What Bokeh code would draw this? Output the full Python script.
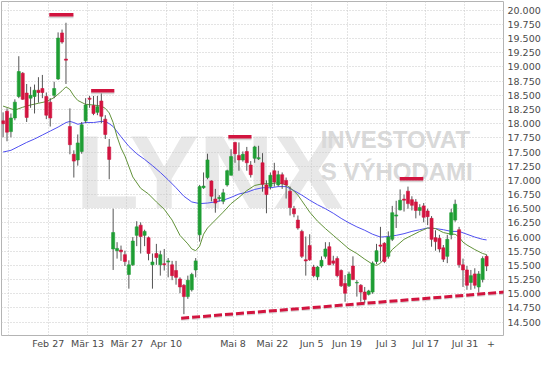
from bokeh.plotting import figure
from bokeh.models import FixedTicker, Label, ColumnDataSource, Range1d, NumeralTickFormatter
from bokeh.embed import file_html
from bokeh.resources import INLINE

# ---- candle data (trading-day index 0 = Feb 9) ----
opens = [
    18.05, 18.22, 17.86, 18.10, 18.48, 18.89, 18.54, 18.45, 18.48, 18.59,
    18.62, 18.48, 18.38, 18.50, 18.79, 19.60, 19.14, 17.95, 17.46, 17.36,
    17.51, 18.05, 18.45, 18.32, 18.20, 18.40, 18.08, 17.59, 15.79, 15.76,
    15.77, 15.69, 15.34, 15.51, 16.03, 16.21, 16.03, 15.99, 15.51, 15.71,
    15.51, 15.53, 15.56, 15.51, 15.41, 15.26, 15.15, 14.95, 15.07, 15.42,
    16.04, 16.87, 17.05, 16.99, 16.67, 16.68, 16.63, 16.92, 17.09, 17.67,
    17.44, 17.36, 17.51, 17.27, 17.39, 17.38, 17.31, 16.92, 16.89, 17.17,
    16.92, 17.10, 17.00, 16.81, 16.50, 16.30, 16.10, 15.60, 15.85, 15.47,
    15.30, 15.49, 15.66, 15.83, 15.58, 15.62, 15.41, 15.18, 15.14, 15.49,
    15.19, 15.15, 15.03, 14.99, 15.03, 15.57, 15.86, 15.89, 15.66, 15.96,
    16.37, 16.48, 16.67, 16.81, 16.66, 16.62, 16.47, 16.55, 16.46, 16.33,
    15.99, 15.98, 15.81, 15.66, 16.04, 16.30, 16.13, 15.51, 15.42, 15.20,
    15.35, 15.12, 15.25, 15.66]
highs = [
    18.20, 18.27, 18.18, 18.43, 19.19, 18.91, 18.70, 18.65, 18.69, 18.82,
    18.86, 18.55, 18.45, 18.74, 19.61, 19.66, 19.78, 18.27, 17.53, 17.81,
    18.03, 18.45, 18.49, 18.49, 18.49, 18.54, 18.15, 17.73, 16.50, 15.91,
    15.85, 15.76, 15.59, 16.00, 16.28, 16.26, 16.13, 16.01, 15.71, 15.88,
    15.76, 15.79, 15.63, 15.58, 15.58, 15.29, 15.17, 15.32, 15.37, 15.63,
    16.92, 17.14, 17.47, 17.00, 16.85, 16.74, 16.85, 17.19, 17.55, 17.68,
    17.67, 17.51, 17.59, 17.34, 17.61, 17.61, 17.48, 17.00, 17.14, 17.31,
    17.17, 17.14, 17.05, 16.89, 16.55, 16.38, 16.13, 16.01, 16.05, 15.51,
    15.49, 15.66, 15.91, 15.91, 15.67, 15.66, 15.43, 15.33, 15.39, 15.66,
    15.24, 15.17, 15.12, 15.07, 15.57, 15.88, 16.18, 15.91, 16.10, 16.55,
    16.64, 16.84, 16.75, 16.89, 16.72, 16.67, 16.58, 16.60, 16.50, 16.37,
    16.12, 16.04, 15.86, 16.04, 16.50, 16.66, 16.18, 15.62, 15.49, 15.42,
    15.45, 15.40, 15.66, 15.69]
lows = [
    17.76, 17.69, 17.76, 18.06, 18.45, 18.42, 18.03, 18.28, 18.18, 18.37,
    18.45, 18.08, 17.95, 18.45, 18.77, 19.41, 18.70, 17.46, 17.05, 17.26,
    17.47, 18.01, 18.28, 18.15, 18.15, 18.01, 17.73, 17.02, 15.42, 15.62,
    15.58, 15.49, 15.09, 15.49, 15.84, 15.71, 15.84, 15.59, 15.09, 15.51,
    15.32, 15.41, 15.29, 15.24, 15.16, 15.01, 14.64, 14.91, 15.04, 15.29,
    15.92, 16.85, 17.02, 16.63, 16.43, 16.63, 16.58, 16.89, 17.09, 17.31,
    17.17, 17.33, 17.17, 17.05, 17.31, 17.36, 16.80, 16.42, 16.84, 16.89,
    16.89, 16.85, 16.68, 16.38, 16.35, 16.13, 15.63, 15.32, 15.58, 15.29,
    15.24, 15.46, 15.62, 15.51, 15.50, 15.29, 15.12, 14.86, 15.12, 15.24,
    14.95, 14.86, 14.83, 14.97, 15.00, 15.52, 15.57, 15.54, 15.62, 15.93,
    16.16, 16.47, 16.45, 16.50, 16.47, 16.33, 16.38, 16.26, 16.21, 15.83,
    15.76, 15.73, 15.56, 15.54, 15.96, 16.27, 15.46, 15.12, 15.07, 15.07,
    15.09, 15.02, 15.20, 15.40]
closes = [
    18.00, 17.85, 18.10, 18.38, 18.92, 18.43, 18.11, 18.50, 18.59, 18.55,
    18.55, 18.15, 18.10, 18.62, 19.51, 19.44, 19.12, 17.63, 17.34, 17.66,
    17.98, 18.33, 18.43, 18.18, 18.30, 18.13, 17.81, 17.37, 16.08, 15.80,
    15.74, 15.57, 15.51, 15.93, 16.18, 16.01, 16.10, 15.71, 15.56, 15.64,
    15.69, 15.51, 15.58, 15.32, 15.29, 15.12, 14.95, 15.24, 15.34, 15.58,
    16.89, 16.90, 17.36, 16.72, 16.60, 16.70, 16.78, 17.17, 17.42, 17.47,
    17.36, 17.46, 17.31, 17.10, 17.59, 17.40, 16.93, 16.75, 17.09, 16.97,
    17.10, 16.94, 16.92, 16.52, 16.41, 16.16, 15.66, 15.58, 15.60, 15.32,
    15.47, 15.59, 15.79, 15.51, 15.54, 15.32, 15.14, 15.01, 15.35, 15.25,
    15.20, 15.03, 14.90, 15.05, 15.54, 15.76, 15.84, 15.57, 16.00, 16.43,
    16.39, 16.65, 16.65, 16.59, 16.56, 16.47, 16.52, 16.35, 16.36, 15.96,
    15.92, 15.79, 15.61, 15.96, 16.43, 16.58, 15.51, 15.42, 15.15, 15.32,
    15.15, 15.35, 15.62, 15.49]

# ---- moving averages ----
ma_fast_idx = [0, 3, 5, 7, 9, 11, 13, 15, 16, 17, 18, 19, 21, 23, 25, 26, 27, 28, 29, 30,
               31, 33, 35, 37, 39, 41, 43, 45, 47, 48, 49, 50, 51, 52, 54, 56, 58, 60, 62, 64,
               66, 68, 70, 72, 73, 74, 75, 76, 77, 78, 80, 82, 84, 86, 88, 90, 92, 94, 95, 96,
               97, 98, 99, 100, 102, 104, 106, 108, 109, 110, 112, 114, 115, 116, 117, 118, 120, 122, 123]
ma_fast_val = [18.31, 18.24, 18.29, 18.33, 18.36, 18.39, 18.46, 18.58, 18.65, 18.60,
               18.49, 18.41, 18.34, 18.33, 18.31, 18.27, 18.19, 18.02, 17.77, 17.57,
               17.43, 17.06, 16.86, 16.76, 16.62, 16.49, 16.30, 16.03, 15.88, 15.79,
               15.76, 15.84, 16.05, 16.16, 16.30, 16.44, 16.59, 16.70, 16.82, 16.91,
               16.94, 16.94, 16.96, 16.92, 16.87, 16.81, 16.74, 16.64, 16.54, 16.44,
               16.28, 16.15, 16.03, 15.91, 15.79, 15.71, 15.61, 15.52, 15.50, 15.54,
               15.63, 15.69, 15.78, 15.84, 15.96, 16.03, 16.10, 16.16, 16.16, 16.15,
               16.08, 16.05, 16.05, 16.00, 15.91, 15.86, 15.78, 15.71, 15.69]
ma_slow_idx = [0, 2, 4, 6, 8, 10, 12, 14, 16, 17, 18, 19, 21, 23, 25, 26, 27, 28, 30, 32,
               34, 36, 38, 40, 42, 44, 46, 48, 50, 52, 54, 56, 58, 60, 62, 64, 66, 68, 70, 72,
               74, 76, 78, 80, 82, 84, 86, 88, 90, 92, 94, 96, 98, 100, 102, 104, 106, 108, 110, 112,
               114, 116, 118, 120, 122, 123]
ma_slow_val = [17.50, 17.53, 17.60, 17.67, 17.73, 17.80, 17.87, 17.94, 18.02, 18.04,
               18.02, 17.99, 18.02, 18.02, 18.04, 18.04, 18.00, 17.95, 17.77, 17.60,
               17.47, 17.37, 17.26, 17.14, 17.01, 16.87, 16.72, 16.62, 16.59, 16.60,
               16.62, 16.65, 16.70, 16.76, 16.79, 16.84, 16.87, 16.87, 16.89, 16.89,
               16.82, 16.74, 16.65, 16.57, 16.50, 16.42, 16.33, 16.25, 16.18, 16.12,
               16.05, 16.00, 16.01, 16.03, 16.06, 16.10, 16.13, 16.16, 16.15, 16.13,
               16.10, 16.10, 16.05, 16.00, 15.96, 15.95]

# ---- annotations ----
resist_x0 = [11.75, 22.4, 57.3, 100.9]
resist_x1 = [17.9, 28.3, 63.2, 106.9]
resist_lvl = [19.92, 18.58, 17.77, 17.03]
support_x = [45.3, 127.5]
support_lvl = [14.57, 15.03]

# ---- axes ----
grid_pos = [1.5, 11.5, 21.5, 31.5, 41.5, 49.5, 58.5, 68.5, 78.5, 87.5, 97.5, 107.5, 117.5]
grid_labels = ["", "Feb 27", "Mär 13", "Mär 27", "Apr 10", "", "Mai 8", "Mai 22",
               "Jun 5", "Jun 19", "Jul 3", "Jul 17", "Jul 31"]
extra_pos = 124.1
extra_label = "+"
y_ticks = [14.5, 14.75, 15.0, 15.25, 15.5, 15.75, 16.0, 16.25, 16.5, 16.75, 17.0, 17.25,
           17.5, 17.75, 18.0, 18.25, 18.5, 18.75, 19.0, 19.25, 19.5, 19.75, 20.0]

GREEN = "#1f9e34"
RED = "#d2143f"

p = figure(width=543, height=351, x_range=Range1d(-0.4, 127.3), y_range=Range1d(14.264, 20.155),
           y_axis_location="right", output_backend="svg", toolbar_location=None,
           min_border_left=1, min_border_top=1, min_border_right=40, min_border_bottom=16)
p.background_fill_color = "white"
p.border_fill_color = "white"
p.outline_line_color = "#b4b4b4"

# watermark
wm_font = "Liberation Sans"
lynx = Label(x=18.4, y=17.15, text="LYNX", text_font=wm_font, text_font_style="bold",
             text_font_size="104px", text_color="#e8e8e8", text_align="left",
             text_baseline="alphabetic", level="image")
inv1 = Label(x=80.8, y=17.72, text="INVESTOVAT", text_font=wm_font, text_font_style="bold",
             text_font_size="24px", text_color="#d9d9d9", text_baseline="alphabetic", level="image")
inv2 = Label(x=80.8, y=17.15, text="S VÝHODAMI", text_font=wm_font, text_font_style="bold",
             text_font_size="24px", text_color="#d9d9d9", text_baseline="alphabetic", level="image")
for lb in (lynx, inv1, inv2):
    p.add_layout(lb)

# grids
p.xgrid.ticker = FixedTicker(ticks=grid_pos)
p.ygrid.ticker = FixedTicker(ticks=y_ticks)
for g in (p.xgrid, p.ygrid):
    g.grid_line_color = "#c9c9c9"
    g.grid_line_dash = "1 2"
    g.grid_line_width = 1

# axes
p.xaxis.ticker = FixedTicker(ticks=grid_pos + [extra_pos])
overrides = {pos: lab for pos, lab in zip(grid_pos, grid_labels)}
overrides[extra_pos] = extra_label
p.xaxis.major_label_overrides = overrides
p.yaxis.ticker = FixedTicker(ticks=y_ticks)
p.yaxis.formatter = NumeralTickFormatter(format="0.000")
for ax in (p.xaxis, p.yaxis):
    ax.axis_line_color = None
    ax.major_tick_line_color = None
    ax.minor_tick_line_color = None
    ax.major_tick_out = 0
    ax.major_tick_in = 0
    ax.minor_tick_out = 0
    ax.minor_tick_in = 0
    ax.major_label_text_font = "DejaVu Sans"
    ax.major_label_text_font_size = "9.5px"
    ax.major_label_text_color = "#4a4a4a"
p.xaxis.major_label_standoff = 2
p.yaxis.major_label_standoff = 4

# moving averages
p.line(ma_slow_idx, ma_slow_val, line_color="#5050f0", line_width=1)
p.line(ma_fast_idx, ma_fast_val, line_color="#62923a", line_width=1)

# candles
n = len(opens)
src = ColumnDataSource(dict(
    x=list(range(n)), o=opens, h=highs, l=lows, c=closes,
    top=[max(a, b) for a, b in zip(opens, closes)],
    bot=[min(a, b) for a, b in zip(opens, closes)],
    col=[GREEN if c >= o else RED for o, c in zip(opens, closes)],
))
p.segment(x0="x", y0="l", x1="x", y1="h", source=src, line_color="#555555", line_width=1)
p.vbar(x="x", width=0.78, top="top", bottom="bot", source=src,
       fill_color="col", line_color="col", line_width=0.6)

# resistance markers with soft shadow
p.segment(x0=resist_x0, x1=resist_x1, y0=[v - 0.035 for v in resist_lvl],
          y1=[v - 0.035 for v in resist_lvl], line_color="#bdbdbd", line_width=3, line_alpha=0.6)
p.segment(x0=resist_x0, x1=resist_x1, y0=resist_lvl, y1=resist_lvl,
          line_color=RED, line_width=3.5)

# support line
p.line(support_x, [v - 0.03 for v in support_lvl], line_color="#c0c0c0", line_width=2,
       line_dash="8 3", line_alpha=0.6)
p.line(support_x, support_lvl, line_color=RED, line_width=3, line_dash="8 3")

open("out.html", "w").write(file_html(p, INLINE))
